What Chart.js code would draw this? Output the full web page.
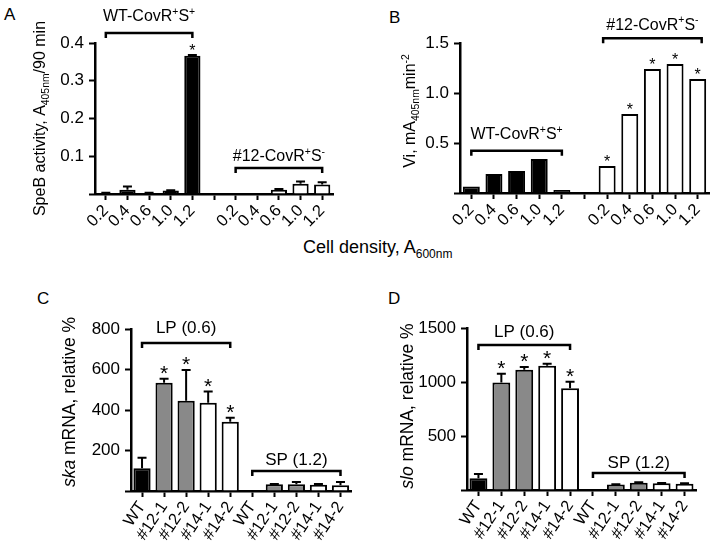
<!DOCTYPE html>
<html>
<head>
<meta charset="utf-8">
<script src="https://cdn.jsdelivr.net/npm/chart.js@4.4.0/dist/chart.umd.min.js"></script>
<style>
  body { margin: 0; background: #fff; width: 716px; height: 551px; position: relative; overflow: hidden;
         font-family: Arial, "Liberation Sans", sans-serif; color: #000; }
  canvas { position: absolute; }
  .letter { position: absolute; font-size: 17px; line-height: 17px; }
  #xTitle { position: absolute; left: 303px; top: 237px; font-size: 18px; white-space: nowrap; }
  #xTitle sub { font-size: 12px; }
</style>
</head>
<body>
<div class="letter" style="left:4px;top:6px">A</div>
<div class="letter" style="left:389px;top:9px">B</div>
<div class="letter" style="left:37px;top:290px">C</div>
<div class="letter" style="left:388px;top:290px">D</div>
<div id="xTitle">Cell density, A<sub>600nm</sub></div>

<canvas id="chartA" width="358" height="280" style="left:0;top:0"></canvas>
<canvas id="chartB" width="356" height="280" style="left:360px;top:0"></canvas>
<canvas id="chartC" width="358" height="271" style="left:0;top:280px"></canvas>
<canvas id="chartD" width="356" height="271" style="left:360px;top:280px"></canvas>

<script>
// Panels A and B: cell density (A600nm)
const densityLabels = ['0.2', '0.4', '0.6', '1.0', '1.2'];
const speBWT = [0.002, 0.011, 0.002, 0.009, 0.366];
const speBWTErr = [0.001, 0.009, 0.001, 0.001, 0.002];
const speBWTSig = [false, false, false, false, true];
const speB12 = [0.001, 0, 0.011, 0.027, 0.025];
const speB12Err = [0, 0, 0.002, 0.006, 0.006];

const viWT = [0.065, 0.19, 0.22, 0.34, 0.03];
const vi12 = [0.27, 0.79, 1.24, 1.29, 1.14];
const vi12Sig = [true, true, true, true, true];

// Panels C and D: strains, LP (0.6) and SP (1.2)
const strainLabels = ['WT', '#12-1', '#12-2', '#14-1', '#14-2'];
const strainFill = ['#000', '#898989', '#898989', '#fff', '#fff'];
const skaLP = [112, 535, 446, 436, 342];
const skaLPErr = [52, 19, 152, 55, 20];
const skaSP = [0, 33, 33, 31, 28];
const skaSPErr = [0, 2, 12, 3, 17];
const sloLP = [108, 996, 1113, 1150, 943];
const sloLPErr = [40, 80, 27, 20, 60];
const sloSP = [0, 50, 68, 62, 59];
const sloSPErr = [0, 3, 4, 3, 3];
const lpSig = [false, true, true, true, true];

const FONT = 'Arial, "Liberation Sans", sans-serif';

// small markup: _{sub} ^{sup} ~{italic}
function parseRich(str) {
  const parts = [];
  const re = /([_^~])\{([^}]*)\}|([^_^~]+)/g;
  let m;
  while ((m = re.exec(str))) {
    parts.push(m[3] !== undefined ? { t: m[3], k: '' } : { t: m[2], k: m[1] });
  }
  return parts;
}

function drawRich(ctx, str, x, y, size) {
  const parts = parseRich(str);
  const fontFor = k => (k === '~' ? 'italic ' : '') + ((k === '_' || k === '^') ? size * 0.65 : size) + 'px ' + FONT;
  let w = 0;
  parts.forEach(p => { ctx.font = fontFor(p.k); p.w = ctx.measureText(p.t).width; w += p.w; });
  let cx = x - w / 2;
  ctx.textAlign = 'left';
  ctx.textBaseline = 'middle';
  parts.forEach(p => {
    ctx.font = fontFor(p.k);
    const dy = p.k === '_' ? size * 0.3 : p.k === '^' ? -size * 0.3 : 0;
    ctx.fillText(p.t, cx, y + dy);
    cx += p.w;
  });
}

// error bars, asterisks, group brackets and y title
const decorPlugin = {
  id: 'decor',
  afterDraw(chart, args, o) {
    const ctx = chart.ctx, xs = chart.scales.x, ys = chart.scales.y;
    const vals = chart.data.datasets[0].data;
    ctx.save();
    ctx.strokeStyle = '#000';
    ctx.fillStyle = '#000';
    ctx.lineWidth = 2;
    o.errors.forEach((e, i) => {
      if (!e || vals[i] == null) return;
      const x = xs.getPixelForValue(i);
      const y0 = ys.getPixelForValue(vals[i]);
      const y1 = ys.getPixelForValue(vals[i] + e);
      ctx.beginPath();
      ctx.moveTo(x, y0); ctx.lineTo(x, y1);
      ctx.moveTo(x - o.capW / 2, y1); ctx.lineTo(x + o.capW / 2, y1);
      ctx.stroke();
    });

    ctx.font = o.starSize + 'px ' + FONT;
    ctx.textAlign = 'center';
    ctx.textBaseline = 'alphabetic';
    o.stars.forEach((s, i) => {
      if (!s) return;
      const top = ys.getPixelForValue(vals[i] + (o.errors[i] || 0));
      ctx.fillText('*', xs.getPixelForValue(i), top + 1);
    });

    o.brackets.forEach(b => {
      const x0 = xs.getPixelForValue(b.from) - (b.pad || 0);
      const x1 = xs.getPixelForValue(b.to) + (b.pad || 0);
      const y = ys.getPixelForValue(b.level);
      ctx.lineWidth = 2.5;
      ctx.beginPath();
      ctx.moveTo(x0, y + 5); ctx.lineTo(x0, y); ctx.lineTo(x1, y); ctx.lineTo(x1, y + 5);
      ctx.stroke();
      drawRich(ctx, b.text, (x0 + x1) / 2, y - b.gap, o.labelSize);
    });

    const ca = chart.chartArea;
    ctx.translate(o.titleX, (ca.top + ca.bottom) / 2 + (o.titleShift || 0));
    ctx.rotate(-Math.PI / 2);
    drawRich(ctx, o.yTitle, 0, 0, o.titleSize);
    ctx.restore();
  }
};

function makeChart(id, box, labels, values, colors, y, decor, rot) {
  const canvas = document.getElementById(id);
  return new Chart(canvas, {
    type: 'bar',
    data: {
      labels: labels,
      datasets: [{
        data: values,
        backgroundColor: colors,
        borderColor: '#000',
        borderWidth: 2,
        borderSkipped: 'bottom',
        barPercentage: box.bar,
        categoryPercentage: 1
      }]
    },
    options: {
      responsive: false,
      animation: false,
      layout: {
        autoPadding: false,
        padding: { left: 0, top: box.top, right: canvas.width - box.right, bottom: 0 }
      },
      plugins: { legend: { display: false }, tooltip: { enabled: false }, decor: decor },
      scales: {
        x: {
          afterFit: s => { s.height = canvas.height - box.bottom; },
          grid: { drawOnChartArea: false, offset: false, tickLength: 6, tickWidth: 2, tickColor: '#000' },
          border: { color: '#000', width: 2.5 },
          ticks: { autoSkip: false, minRotation: rot, maxRotation: rot, padding: 1, color: '#000',
                   font: { family: FONT, size: 16.5 } }
        },
        y: {
          min: 0, max: y.max,
          afterFit: s => { s.width = box.left; },
          grid: { drawOnChartArea: false, tickLength: 6, tickWidth: 2, tickColor: '#000' },
          border: { color: '#000', width: 2.5 },
          ticks: { stepSize: y.step, padding: 5, color: '#000', font: { family: FONT, size: 17 },
                   callback: v => v === 0 ? '' : v.toFixed(y.dec) }
        }
      }
    },
    plugins: [decorPlugin]
  });
}

const blackWhite = [...densityLabels.map(() => '#000'), '#fff', ...densityLabels.map(() => '#fff')];
const densityAxis = [...densityLabels, '', ...densityLabels];

makeChart('chartA', { left: 95, right: 333, top: 43, bottom: 194, bar: 0.75 },
  densityAxis, [...speBWT, null, ...speB12], blackWhite,
  { max: 0.4, step: 0.1, dec: 1 },
  {
    errors: [...speBWTErr, 0, ...speB12Err], capW: 9,
    stars: [...speBWTSig, false, false, false, false, false, false], starSize: 16,
    brackets: [
      { from: 0, to: 4, level: 0.4265, gap: 16, text: 'WT-CovR^{+}S^{+}' },
      { from: 6, to: 10, level: 0.069, gap: 11, text: '#12-CovR^{+}S^{-}' }
    ],
    labelSize: 16, yTitle: 'SpeB activity, A_{405nm}/90 min', titleX: 41, titleSize: 16
  }, 46);

makeChart('chartB', { left: 100, right: 349, top: 43, bottom: 193, bar: 0.75 },
  densityAxis, [...viWT, null, ...vi12], blackWhite,
  { max: 1.5, step: 0.5, dec: 1 },
  {
    errors: [], capW: 9,
    stars: [false, false, false, false, false, false, ...vi12Sig], starSize: 16,
    brackets: [
      { from: 0, to: 4, level: 0.423, gap: 16, text: 'WT-CovR^{+}S^{+}' },
      { from: 6, to: 10, level: 1.547, gap: 13, pad: 4, text: '#12-CovR^{+}S^{-}' }
    ],
    labelSize: 16, yTitle: 'Vi, mA_{405nm}min^{-2}', titleX: 51, titleShift: -7, titleSize: 16
  }, 46);

const strainAxis = [...strainLabels, ...strainLabels];
const strainColors = [...strainFill, ...strainFill];

makeChart('chartC', { left: 131, right: 356, top: 49, bottom: 211, bar: 0.78 },
  strainAxis, [...skaLP, ...skaSP], strainColors,
  { max: 800, step: 200, dec: 0 },
  {
    errors: [...skaLPErr, ...skaSPErr], capW: 9,
    stars: [...lpSig, false, false, false, false, false], starSize: 21,
    brackets: [
      { from: 0, to: 4, level: 731, gap: 15, text: 'LP (0.6)' },
      { from: 5, to: 9, level: 99, gap: 11, text: 'SP (1.2)' }
    ],
    labelSize: 17, yTitle: '~{ska} mRNA, relative %', titleX: 70, titleShift: -8, titleSize: 17.5
  }, 56);

makeChart('chartD', { left: 107, right: 336, top: 48, bottom: 210, bar: 0.78 },
  strainAxis, [...sloLP, ...sloSP], strainColors,
  { max: 1500, step: 500, dec: 0 },
  {
    errors: [...sloLPErr, ...sloSPErr], capW: 9,
    stars: [...lpSig, false, false, false, false, false], starSize: 21,
    brackets: [
      { from: 0, to: 4, level: 1343, gap: 13, text: 'LP (0.6)' },
      { from: 5, to: 9, level: 157, gap: 10, text: 'SP (1.2)' }
    ],
    labelSize: 17, yTitle: '~{slo} mRNA, relative %', titleX: 48, titleShift: -3, titleSize: 17.5
  }, 56);
</script>
</body>
</html>
